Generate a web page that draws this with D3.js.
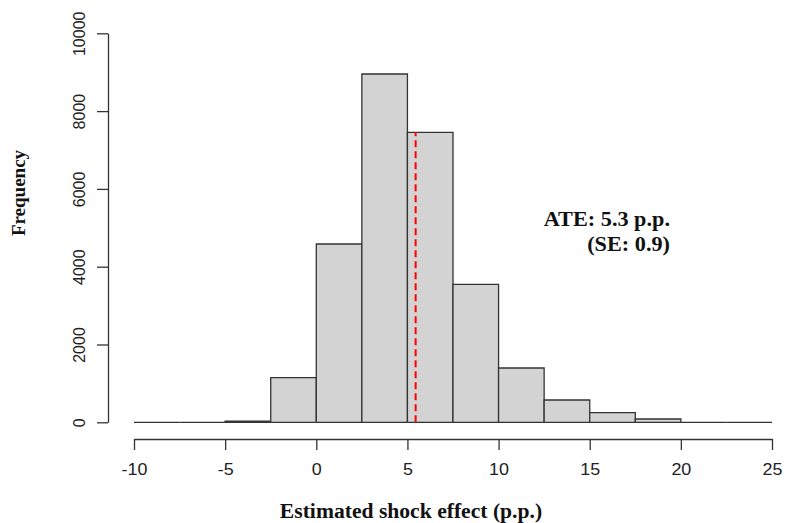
<!DOCTYPE html>
<html lang="en">
<head>
    <meta charset="UTF-8">
    <title>Histogram</title>
    <script src="https://d3js.org/d3.v7.min.js"></script>
    <style>
        body { margin: 0; background: #fff; }
    </style>
</head>
<body>
<script>
    // histogram bins (left edges), width 2.5
    binStarts = [-10, -7.5, -5, -2.5, 0, 2.5, 5, 7.5, 10, 12.5, 15, 17.5, 20, 22.5]
    counts = [0, 0, 30, 1147, 4584, 8954, 7455, 3548, 1396, 573, 247, 85, 0, 0]
    binWidth = 2.5
    xTicks = [-10, -5, 0, 5, 10, 15, 20, 25]
    yTicks = [0, 2000, 4000, 6000, 8000, 10000]
    ateLine = 5.45
    ateText = ["ATE: 5.3 p.p.", "(SE: 0.9)"]

    w = 785
    h = 523

    svg = d3.select("body")
        .append("svg")
        .attr("width", w)
        .attr("height", h)

    x = d3.scaleLinear()
        .domain([-10, 25])
        .range([134, 772])

    y = d3.scaleLinear()
        .domain([0, 10000])
        .range([422.3, 33.3])

    //bars (paths so that empty bins still show as a line)
    function barPath(d, i) {
        p = d3.path()
        p.moveTo(x(d), y(0))
        p.lineTo(x(d), y(counts[i]))
        p.lineTo(x(d + binWidth), y(counts[i]))
        p.lineTo(x(d + binWidth), y(0))
        p.closePath()
        return p.toString()
    }

    svg.selectAll("path.bar")
        .data(binStarts)
        .enter()
        .append("path")
        .attr("class", "bar")
        .attr("d", barPath)
        .attr("fill", "#d3d3d3")
        .attr("stroke", "#333")
        .attr("stroke-width", 1.3)

    //mean line
    binIdx = binStarts.findIndex((d) => ateLine >= d && ateLine < d + binWidth)
    svg.append("line")
        .attr("x1", x(ateLine))
        .attr("x2", x(ateLine))
        .attr("y1", y(0))
        .attr("y2", y(counts[binIdx]))
        .attr("stroke", "#ff0000")
        .attr("stroke-width", 2)
        .attr("stroke-dasharray", "7,4")

    //x axis (plain hyphen for negatives, like R)
    xAxis = svg.append("g")
        .attr("transform", "translate(0,439)")
        .call(d3.axisBottom(x).tickValues(xTicks).tickFormat((d) => String(d))
            .tickSize(11).tickPadding(14).tickSizeOuter(0))
    xAxis.select(".domain").attr("stroke", "#333").attr("stroke-width", 1.3)
    xAxis.selectAll(".tick line").attr("stroke", "#333").attr("stroke-width", 1.3)
    xAxis.selectAll(".tick text")
        .attr("font-family", "Liberation Sans, Arial, sans-serif")
        .attr("font-size", 16)
        .attr("fill", "#222")
        .attr("transform", "scale(1.12,1)")

    //y axis
    yAxis = svg.append("g")
        .attr("transform", "translate(108,0)")
        .call(d3.axisLeft(y).tickValues(yTicks).tickFormat((d) => String(d))
            .tickSize(11).tickSizeOuter(0))
    yAxis.select(".domain").attr("stroke", "#333").attr("stroke-width", 1.3)
    yAxis.selectAll(".tick line").attr("stroke", "#333").attr("stroke-width", 1.3)
    yAxis.selectAll(".tick text")
        .attr("font-family", "Liberation Sans, Arial, sans-serif")
        .attr("font-size", 16)
        .attr("fill", "#222")
        .attr("x", 0)
        .attr("dy", 0)
        .attr("text-anchor", "middle")
        .attr("transform", "translate(-23,0) rotate(-90)")

    //axis titles
    svg.append("g")
        .attr("transform", "translate(411,518) scale(1.03,1)")
        .append("text")
        .attr("text-anchor", "middle")
        .attr("font-family", "Liberation Serif, Times New Roman, serif")
        .attr("font-weight", "bold")
        .attr("font-size", 21)
        .attr("fill", "#111")
        .text("Estimated shock effect (p.p.)")

    svg.append("text")
        .attr("transform", "translate(25,193) rotate(-90)")
        .attr("text-anchor", "middle")
        .attr("font-family", "Liberation Serif, Times New Roman, serif")
        .attr("font-weight", "bold")
        .attr("font-size", 19)
        .attr("fill", "#111")
        .text("Frequency")

    //annotation
    ann = svg.append("g")
        .attr("transform", "translate(670,0) scale(1.06,1)")
    ann.selectAll("text.ate")
        .data(ateText)
        .enter()
        .append("text")
        .attr("class", "ate")
        .attr("x", 0)
        .attr("y", (d, i) => 226 + i * 25)
        .attr("text-anchor", "end")
        .attr("font-family", "Liberation Serif, Times New Roman, serif")
        .attr("font-weight", "bold")
        .attr("font-size", 21)
        .attr("fill", "#111")
        .text((d) => d)
</script>
</body>
</html>
